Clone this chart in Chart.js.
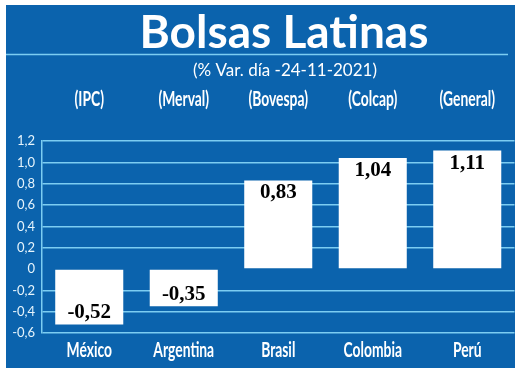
<!DOCTYPE html>
<html>
<head>
<meta charset="utf-8">
<script src="https://cdn.jsdelivr.net/npm/chart.js@4"></script>
<style>
  html, body { margin: 0; padding: 0; background: #ffffff; }
  #wrap { width: 520px; height: 374px; position: relative; }
</style>
</head>
<body>
<div id="wrap"><canvas id="bolsasChart"></canvas></div>
<script>
const countries = ['México', 'Argentina', 'Brasil', 'Colombia', 'Perú'];
const indices = ['(IPC)', '(Merval)', '(Bovespa)', '(Colcap)', '(General)'];
const variation = [-0.52, -0.35, 0.83, 1.04, 1.11];
const yTicks = [-0.6, -0.4, -0.2, 0, 0.2, 0.4, 0.6, 0.8, 1.0, 1.2];
const titleText = 'Bolsas Latinas';
const subtitleText = '(% Var. día -24-11-2021)';

const BLUE = '#0b63ad';
const LIGHT = '#7ccdf2';
const LABEL_FONT = 'bold 21px Lato, sans-serif';

// blue panel, heading and rule
const panelPlugin = {
    id: 'panel',
    beforeDraw(chart) {
        const ctx = chart.ctx;
        ctx.save();
        ctx.fillStyle = BLUE;
        ctx.fillRect(6, 5, 509, 363);
        ctx.strokeStyle = LIGHT;
        ctx.lineWidth = 1.5;
        ctx.beginPath();
        ctx.moveTo(6, 54.5);
        ctx.lineTo(508, 54.5);
        ctx.stroke();
        ctx.fillStyle = '#ffffff';
        ctx.textAlign = 'center';
        ctx.textBaseline = 'alphabetic';
        ctx.font = 'bold 46px Lato, sans-serif';
        ctx.fillText(titleText, 284, 48, 294);
        ctx.font = '17px Lato, sans-serif';
        ctx.fillText(subtitleText, 285, 76, 186);
        ctx.restore();
    }
};

// condensed category labels, placed on the library's own x scales
function drawCondensed(ctx, text, x, y) {
    ctx.save();
    ctx.translate(x, y);
    ctx.scale(0.66, 1);
    ctx.fillText(text, 0, 0);
    ctx.restore();
}

const labelPlugin = {
    id: 'catLabels',
    afterDraw(chart) {
        const ctx = chart.ctx;
        const xs = chart.scales.x;
        const xt = chart.scales.x2;
        ctx.save();
        ctx.fillStyle = '#ffffff';
        ctx.font = LABEL_FONT;
        ctx.textAlign = 'center';
        ctx.textBaseline = 'middle';
        countries.forEach((c, i) => drawCondensed(ctx, c, xs.getPixelForValue(i), xs.top + 17));
        indices.forEach((c, i) => drawCondensed(ctx, c, xt.getPixelForValue(i), xt.top + 19));
        ctx.restore();
    }
};

// value labels inside the bars
const valuePlugin = {
    id: 'values',
    afterDatasetsDraw(chart) {
        const ctx = chart.ctx;
        const meta = chart.getDatasetMeta(0);
        ctx.save();
        ctx.fillStyle = '#000000';
        ctx.font = 'bold 21px "Liberation Serif", serif';
        ctx.textAlign = 'center';
        meta.data.forEach((bar, i) => {
            const v = variation[i];
            const label = v.toFixed(2).replace('.', ',');
            if (v >= 0) {
                ctx.textBaseline = 'top';
                ctx.fillText(label, bar.x, bar.y + 2);
            } else {
                ctx.textBaseline = 'bottom';
                ctx.fillText(label, bar.x, bar.y - 1);
            }
        });
        ctx.restore();
    }
};

const ctx = document.getElementById('bolsasChart').getContext('2d');
new Chart(ctx, {
    type: 'bar',
    data: {
        labels: countries,
        datasets: [{
            data: variation,
            backgroundColor: '#ffffff',
            borderWidth: 0,
            categoryPercentage: 1,
            barPercentage: 0.72
        }]
    },
    options: {
        responsive: true,
        maintainAspectRatio: false,
        animation: false,
        devicePixelRatio: 1,
        layout: { padding: { top: 80, right: 5.5, bottom: 8, left: 6 } },
        plugins: {
            legend: { display: false },
            tooltip: { enabled: false }
        },
        scales: {
            x: {
                position: 'bottom',
                grid: { display: false },
                border: { display: false },
                ticks: { display: false },
                afterFit(axis) { axis.height = 33; }
            },
            x2: {
                type: 'category',
                position: 'top',
                labels: indices,
                grid: { display: false },
                border: { display: false },
                ticks: { display: false },
                afterFit(axis) { axis.height = 61; }
            },
            y: {
                min: -0.6,
                max: 1.2,
                afterBuildTicks(axis) {
                    axis.ticks = yTicks.map(v => ({ value: v }));
                },
                afterFit(axis) { axis.width = 36; },
                grid: {
                    drawTicks: false,
                    lineWidth: 1.5,
                    color: c => (c.tick && Math.abs(c.tick.value) < 1e-9) ? 'rgba(0,0,0,0)' : LIGHT
                },
                border: { display: true, color: LIGHT, width: 1.5 },
                ticks: {
                    autoSkip: false,
                    color: '#e6f4fc',
                    padding: 7,
                    font: { family: 'Lato', size: 13 },
                    callback: v => Math.abs(v) < 1e-9 ? '0' : v.toFixed(1).replace('.', ',')
                }
            }
        }
    },
    plugins: [panelPlugin, valuePlugin, labelPlugin]
});
</script>
</body>
</html>
